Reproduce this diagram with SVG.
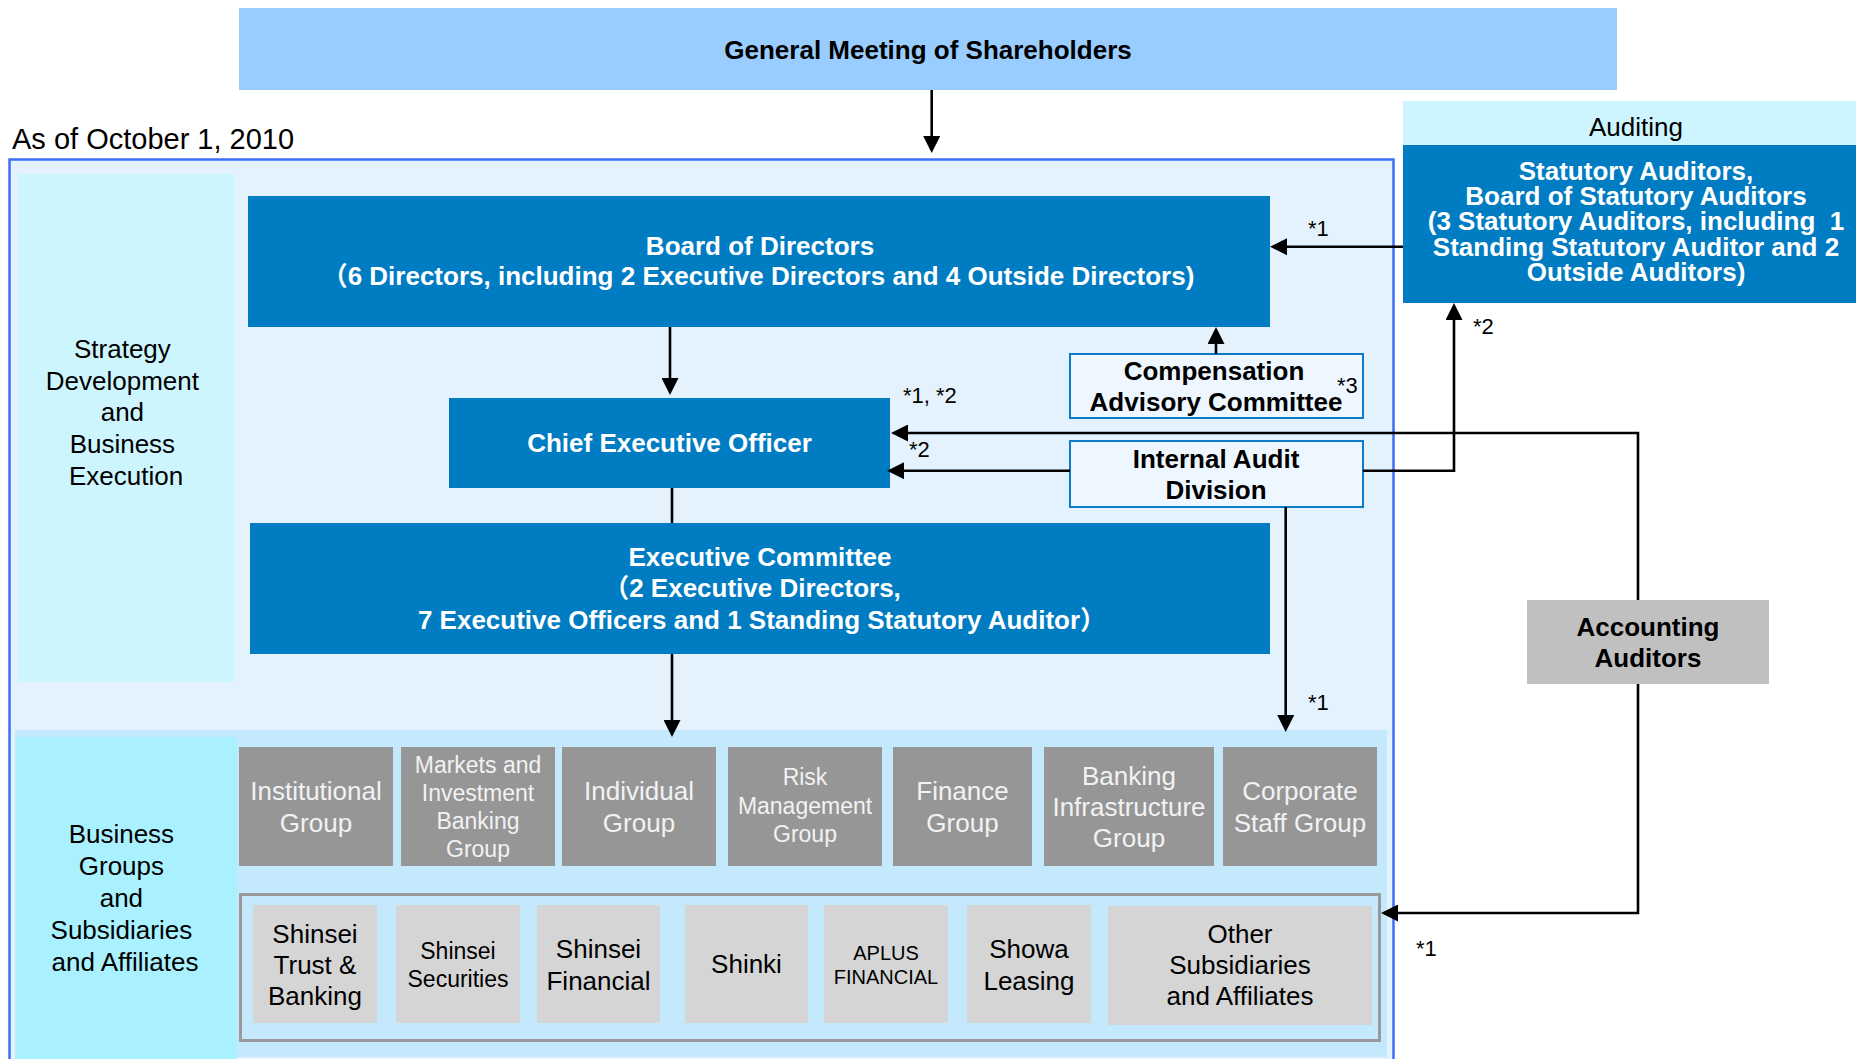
<svg xmlns="http://www.w3.org/2000/svg" width="1856" height="1059" viewBox="0 0 1856 1059">
  <defs>
    <style>
      text { font-family: "Liberation Sans", Arial, "Noto Sans CJK JP", sans-serif; }
      .b { font-weight: bold; font-size: 26px; }
      .w { fill: #ffffff; }
      .k { fill: #000000; }
      .r26 { font-size: 26px; }
      .note { font-size: 22px; fill: #000; }
      .mid { text-anchor: middle; }
      .dark { fill: #007cc2; }
      .grp { fill: #969696; }
      .grpt { fill: #f2f2f2; font-size: 26px; text-anchor: middle; }
      .sub { fill: #d5d5d5; }
      .subt { fill: #000; font-size: 26px; text-anchor: middle; }
      .pale { fill: #eef7ff; stroke: #0a7bc4; stroke-width: 2; }
      .conn { fill: none; stroke: #000; stroke-width: 2.6; }
    </style>
    <marker id="arrow" markerUnits="userSpaceOnUse" markerWidth="17" markerHeight="17" viewBox="0 0 17 17" refX="13" refY="8.5" orient="auto">
      <path d="M0,0 L17,8.5 L0,17 Z" fill="#000"/>
    </marker>
  </defs>

  <rect width="1856" height="1059" fill="#ffffff"/>

  <!-- shareholders -->
  <g id="general-meeting">
    <rect x="239" y="8" width="1378" height="82" fill="#99ccff"/>
    <text class="b k mid" x="928" y="59">General Meeting of Shareholders</text>
  </g>

  <text class="k" x="12" y="149" font-size="29">As of October 1, 2010</text>

  <!-- company frame -->
  <g id="company-frame">
    <rect x="9.5" y="159.5" width="1384" height="920" fill="#e4f2fd" stroke="#3d6ef5" stroke-width="2.5"/>
  </g>

  <g id="strategy-panel">
    <rect x="18" y="174" width="216" height="508" fill="#cdf5fd"/>
    <text class="r26 k mid" x="126">
      <tspan x="126" y="358">Strategy</tspan>
      <tspan x="126" y="390">Development</tspan>
      <tspan x="126" y="421">and</tspan>
      <tspan x="126" y="453">Business</tspan>
      <tspan x="126" y="485">Execution</tspan>
    </text>
  </g>

  <g id="business-area">
    <rect x="15" y="730" width="1372" height="327" fill="#c4e8fc"/>
    <rect x="15" y="737" width="222" height="322" fill="#aaf1ff"/>
    <text class="r26 k mid" x="125">
      <tspan x="125" y="843">Business</tspan>
      <tspan x="125" y="875">Groups</tspan>
      <tspan x="125" y="907">and</tspan>
      <tspan x="125" y="939">Subsidiaries</tspan>
      <tspan x="125" y="971">and Affiliates</tspan>
    </text>
  </g>

  <!-- governance bodies -->
  <g id="board">
    <rect class="dark" x="248" y="196" width="1022" height="131"/>
    <text class="b w mid" x="760" y="255">Board of Directors</text>
    <text class="b w mid" x="758" y="285">（6 Directors, including 2 Executive Directors and 4 Outside Directors)</text>
  </g>

  <g id="ceo">
    <rect class="dark" x="449" y="398" width="441" height="90"/>
    <text class="b w mid" x="669.5" y="452">Chief Executive Officer</text>
  </g>

  <g id="executive-committee">
    <rect class="dark" x="250" y="523" width="1020" height="131"/>
    <text class="b w mid" x="760" y="566">Executive Committee</text>
    <text class="b w mid" x="752" y="597">（2 Executive Directors,</text>
    <text class="b w mid" x="762" y="629">7 Executive Officers and 1 Standing Statutory Auditor）</text>
  </g>

  <g id="compensation-committee">
    <rect class="pale" x="1070" y="354" width="293" height="64"/>
    <text class="b k mid" x="1214" y="380">Compensation</text>
    <text class="b k mid" x="1216" y="411">Advisory Committee</text>
  </g>

  <g id="internal-audit">
    <rect class="pale" x="1070" y="441" width="293" height="66"/>
    <text class="b k mid" x="1216" y="468">Internal Audit</text>
    <text class="b k mid" x="1216" y="499">Division</text>
  </g>

  <g id="statutory-auditors">
    <rect x="1403" y="101" width="453" height="44" fill="#ccf5ff"/>
    <text class="r26 k mid" x="1636" y="136">Auditing</text>
    <rect class="dark" x="1403" y="145" width="453" height="158"/>
    <text class="b w mid" x="1636" y="180">Statutory Auditors,</text>
    <text class="b w mid" x="1636" y="205">Board of Statutory Auditors</text>
    <text class="b w mid" x="1636" y="230" style="white-space:pre">(3 Statutory Auditors, including  1</text>
    <text class="b w mid" x="1636" y="256">Standing Statutory Auditor and 2</text>
    <text class="b w mid" x="1636" y="281">Outside Auditors)</text>
  </g>

  <g id="accounting-auditors">
    <rect x="1527" y="600" width="242" height="84" fill="#c0c0c0"/>
    <text class="b k mid" x="1648" y="636">Accounting</text>
    <text class="b k mid" x="1648" y="667">Auditors</text>
  </g>

  <!-- business groups -->
  <g id="group-institutional">
    <rect class="grp" x="239" y="747" width="154" height="119"/>
    <text class="grpt"><tspan x="316" y="800">Institutional</tspan><tspan x="316" y="832">Group</tspan></text>
  </g>
  <g id="group-markets">
    <rect class="grp" x="401" y="747" width="154" height="119"/>
    <text class="grpt" style="font-size:23px"><tspan x="478" y="773">Markets and</tspan><tspan x="478" y="801">Investment</tspan><tspan x="478" y="829">Banking</tspan><tspan x="478" y="857">Group</tspan></text>
  </g>
  <g id="group-individual">
    <rect class="grp" x="562" y="747" width="154" height="119"/>
    <text class="grpt"><tspan x="639" y="800">Individual</tspan><tspan x="639" y="832">Group</tspan></text>
  </g>
  <g id="group-risk">
    <rect class="grp" x="728" y="747" width="154" height="119"/>
    <text class="grpt" style="font-size:23px"><tspan x="805" y="785">Risk</tspan><tspan x="805" y="814">Management</tspan><tspan x="805" y="842">Group</tspan></text>
  </g>
  <g id="group-finance">
    <rect class="grp" x="893" y="747" width="139" height="119"/>
    <text class="grpt"><tspan x="962.5" y="800">Finance</tspan><tspan x="962.5" y="832">Group</tspan></text>
  </g>
  <g id="group-banking-infrastructure">
    <rect class="grp" x="1044" y="747" width="170" height="119"/>
    <text class="grpt"><tspan x="1129" y="785">Banking</tspan><tspan x="1129" y="816">Infrastructure</tspan><tspan x="1129" y="847">Group</tspan></text>
  </g>
  <g id="group-corporate-staff">
    <rect class="grp" x="1223" y="747" width="154" height="119"/>
    <text class="grpt"><tspan x="1300" y="800">Corporate</tspan><tspan x="1300" y="832">Staff Group</tspan></text>
  </g>

  <!-- subsidiaries -->
  <g id="subsidiaries-frame">
    <rect x="240.5" y="894.5" width="1139" height="146" fill="none" stroke="#999999" stroke-width="3"/>
  </g>
  <g id="sub-shinsei-trust">
    <rect class="sub" x="253" y="905" width="124" height="118"/>
    <text class="subt"><tspan x="315" y="943">Shinsei</tspan><tspan x="315" y="974">Trust &amp;</tspan><tspan x="315" y="1005">Banking</tspan></text>
  </g>
  <g id="sub-shinsei-securities">
    <rect class="sub" x="396" y="905" width="124" height="118"/>
    <text class="subt" style="font-size:23px"><tspan x="458" y="959">Shinsei</tspan><tspan x="458" y="987">Securities</tspan></text>
  </g>
  <g id="sub-shinsei-financial">
    <rect class="sub" x="537" y="905" width="123" height="118"/>
    <text class="subt"><tspan x="598.5" y="958">Shinsei</tspan><tspan x="598.5" y="990">Financial</tspan></text>
  </g>
  <g id="sub-shinki">
    <rect class="sub" x="685" y="905" width="123" height="118"/>
    <text class="subt" x="746.5" y="973">Shinki</text>
  </g>
  <g id="sub-aplus">
    <rect class="sub" x="824" y="905" width="124" height="118"/>
    <text class="subt" style="font-size:20px"><tspan x="886" y="960">APLUS</tspan><tspan x="886" y="984">FINANCIAL</tspan></text>
  </g>
  <g id="sub-showa-leasing">
    <rect class="sub" x="967" y="905" width="124" height="118"/>
    <text class="subt"><tspan x="1029" y="958">Showa</tspan><tspan x="1029" y="990">Leasing</tspan></text>
  </g>
  <g id="sub-others">
    <rect class="sub" x="1108" y="906" width="264" height="119"/>
    <text class="subt"><tspan x="1240" y="943">Other</tspan><tspan x="1240" y="974">Subsidiaries</tspan><tspan x="1240" y="1005">and Affiliates</tspan></text>
  </g>

  <!-- reporting lines -->
  <g id="connectors">
    <path class="conn" d="M931.7,90 V149" marker-end="url(#arrow)"/>
    <path class="conn" d="M670,327 V391" marker-end="url(#arrow)"/>
    <path class="conn" d="M672,488 V523"/>
    <path class="conn" d="M672,654 V733" marker-end="url(#arrow)"/>
    <path class="conn" d="M1403,246.7 H1274" marker-end="url(#arrow)"/>
    <path class="conn" d="M1216,354 V331" marker-end="url(#arrow)"/>
    <path class="conn" d="M1638,600 V433 H895" marker-end="url(#arrow)"/>
    <path class="conn" d="M1070,470.7 H891" marker-end="url(#arrow)"/>
    <path class="conn" d="M1363,470.7 H1454 V307" marker-end="url(#arrow)"/>
    <path class="conn" d="M1285.7,507 V728" marker-end="url(#arrow)"/>
    <path class="conn" d="M1638,684 V913 H1385" marker-end="url(#arrow)"/>
  </g>

  <g id="notes">
    <text class="note" x="1308" y="235.5">*1</text>
    <text class="note" x="1337" y="393">*3</text>
    <text class="note" x="903" y="403">*1, *2</text>
    <text class="note" x="909" y="457">*2</text>
    <text class="note" x="1473" y="334">*2</text>
    <text class="note" x="1308" y="710">*1</text>
    <text class="note" x="1416" y="955.5">*1</text>
  </g>
</svg>
